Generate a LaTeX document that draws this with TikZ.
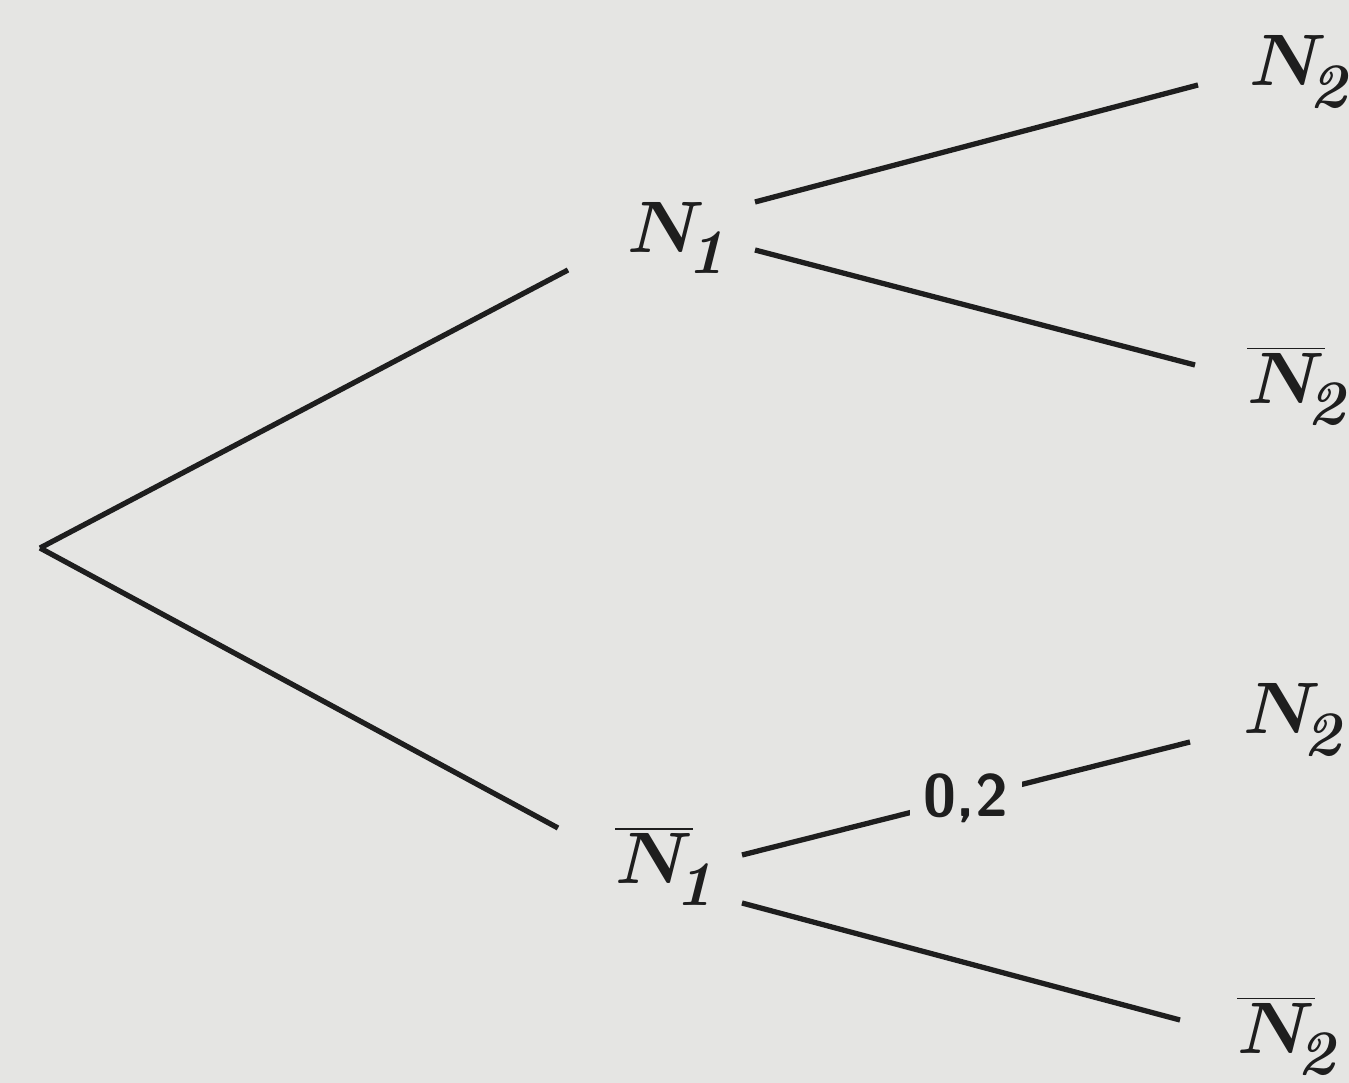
\documentclass[tikz,border=0pt]{standalone}
\usetikzlibrary{calc}
\definecolor{paper}{RGB}{229,229,227}
\definecolor{ink}{RGB}{30,30,30}
\newcommand{\lbl}[2]{{\boldmath$#1$\kern-5pt\raisebox{-6pt}{\fontsize{18}{18}\selectfont\bfseries\itshape #2}}}
\begin{document}
\begin{tikzpicture}[x=0.01cm,y=-0.01cm,
  lab/.style={font=\fontsize{20}{24}\selectfont, text=ink, inner sep=0pt},
  br/.style={draw=ink, line width=1.5pt},
  prob/.style={font=\fontsize{17}{20}\selectfont\sffamily\bfseries, text=ink, fill=paper, inner sep=4pt}]
\fill[paper] (0,0) rectangle (1349,1083);
\useasboundingbox (0,0) rectangle (1349,1083);
\coordinate (root) at (40,548);
\node[lab] (N1) at (676,238) {\lbl{N}{1}};
\node[lab] (N1b) at (664,866) {\lbl{\overline{N}}{1}};
\node[lab] (N2a) at (1298,72) {\lbl{N}{2}};
\node[lab] (N2ab) at (1296,386) {\lbl{\overline{N}}{2}};
\node[lab] (N2b) at (1292,720) {\lbl{N}{2}};
\node[lab] (N2bb) at (1286,1036) {\lbl{\overline{N}}{2}};
\draw[br] (root) -- ($(N1)+(-108,32)$);
\draw[br] (root) -- ($(N1b)+(-106,-38)$);
\draw[br] ($(N1)+(79,-36)$) -- ($(N2a)+(-100,13)$);
\draw[br] ($(N1)+(79,12)$) -- ($(N2ab)+(-101,-21)$);
\draw[br] ($(N1b)+(78,-11)$) -- node[prob] (p) {0,2} ($(N2b)+(-102,22)$);
\draw[br] ($(N1b)+(78,37)$) -- ($(N2bb)+(-106,-16)$);
\end{tikzpicture}
\end{document}
